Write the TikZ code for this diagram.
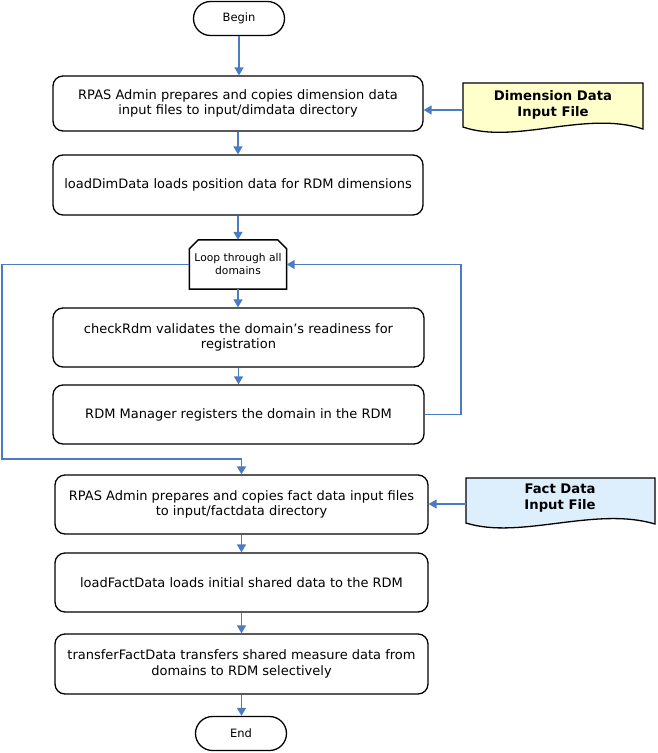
\documentclass[tikz,border=0pt]{standalone}
\usepackage{fontspec}
\setmainfont{DejaVu Sans}
\usetikzlibrary{shapes.misc,arrows.meta}
\definecolor{flow}{HTML}{4A7CC4}
\definecolor{dimfill}{HTML}{FFFFCC}
\definecolor{factfill}{HTML}{DDEEFC}
\tikzset{
  proc/.style={draw, line width=1.3pt, rounded corners=10pt, minimum width=#1, minimum height=59pt,
    align=center, inner sep=2pt, font=\fontsize{13}{15.5}\selectfont},
  proc/.default=370pt,
  term/.style={draw, line width=1.3pt, rounded rectangle, minimum width=95pt, minimum height=34pt,
    inner sep=2pt, font=\fontsize{11.5}{13}\selectfont},
  loopbox/.style={minimum width=97pt, minimum height=49pt, inner sep=0pt, align=center,
    font=\fontsize{10.7}{13}\selectfont},
  loopedge/.style={draw, line width=1.5pt, line join=miter},
  doctext/.style={align=center, inner sep=0pt, font=\bfseries\fontsize{13.2}{15.5}\selectfont},
  docshape/.style={draw, line width=1.3pt},
  flowarrow/.style={draw=flow, line width=1.5pt, -{Triangle[length=8pt,width=9pt]}},
}
\begin{document}
\begin{tikzpicture}[x=1pt,y=-1pt]
\useasboundingbox (0,0) rectangle (657,753);
% document shapes
\path[docshape, fill=dimfill] (463,83) -- (643,83) -- (643,129)
  .. controls (585,110) and (515,145) .. (463,127) -- cycle;
\node[doctext] (dim) at (553,105) {Dimension Data\\Input File};
\path[docshape, fill=factfill] (466,478) -- (655,478) -- (655,524)
  .. controls (595,506) and (520,540) .. (466,523) -- cycle;
\node[doctext] (fact) at (560,498) {Fact Data\\Input File};

\node[term] (begin) at (239,18.5) {Begin};
\node[proc, minimum height=55pt] (b1) at (238,103.5) {RPAS Admin prepares and copies dimension data\\input files to input/dimdata directory};
\node[proc, minimum height=60pt] (b2) at (238,185) {loadDimData loads position data for RDM dimensions};
\node[loopbox] (loop) at (238,264.5) {Loop through all\\domains};
\draw[loopedge] (loop.south west) -- ([yshift=-9pt]loop.north west) -- ([xshift=9pt]loop.north west)
  -- ([xshift=-9pt]loop.north east) -- ([yshift=-9pt]loop.north east) -- (loop.south east) -- cycle;
\node[proc=371pt] (b3) at (238.5,337.5) {checkRdm validates the domain’s readiness for\\registration};
\node[proc=371pt] (b4) at (238.5,414.5) {RDM Manager registers the domain in the RDM};
\node[proc=373pt] (b5) at (241.5,504.5) {RPAS Admin prepares and copies fact data input files\\to input/factdata directory};
\node[proc=373pt] (b6) at (241.5,582.5) {loadFactData loads initial shared data to the RDM};
\node[proc=373pt, minimum height=60pt] (b7) at (241.5,664) {transferFactData transfers shared measure data from\\domains to RDM selectively};
\node[term] (end) at (241,733.5) {End};

\coordinate (backx) at (461,414.5);
\coordinate (exitx) at (2,459);

\draw[flowarrow] (begin.south) -- (begin.south |- b1.north);
\draw[flowarrow] (b1) -- (b2);
\draw[flowarrow] (b2) -- (loop);
\draw[flowarrow] (loop) -- (loop |- b3.north);
\draw[flowarrow] (b3) -- (b4);
\draw[flowarrow] (b4.east) -- (backx) |- (loop.east);
\draw[flowarrow] (loop.west) -| (exitx) -| (b5.north);
\draw[flowarrow] (b5) -- (b6);
\draw[flowarrow] (b6) -- (b7);
\draw[flowarrow] (b7.south) -- (b7.south |- end.north);
\draw[flowarrow] ([yshift=-5pt]dim.west -| 463,0) coordinate (da) -- (da -| b1.east);
\draw[flowarrow] ([yshift=-6pt]fact.west -| 466,0) coordinate (fa) -- (fa -| b5.east);
\end{tikzpicture}
\end{document}
